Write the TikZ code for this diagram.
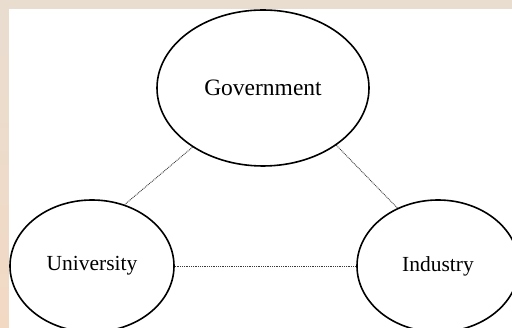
\documentclass[tikz,border=0pt]{standalone}
\usepackage{fontspec}
\setmainfont{Liberation Serif}
\usetikzlibrary{shapes.geometric}
\definecolor{parchtop}{HTML}{E9DDD0}
\definecolor{parchbot}{HTML}{F2D9C4}
\definecolor{linkgray}{HTML}{3A3A3A}
\tikzset{
  sector/.style={draw=black, line width=1.6pt, ellipse, fill=white, inner sep=0pt},
  label/.style={font=\fontsize{21.5}{24}\selectfont, text=black},
  link/.style={draw=linkgray, line width=0.9pt, dash pattern=on 0.9pt off 0.9pt},
}
\begin{document}
\begin{tikzpicture}[x=1pt, y=-1pt]
  \useasboundingbox (0,0) rectangle (512,328);
  % parchment backdrop and white panel
  \shade[top color=parchtop, bottom color=parchbot] (0,0) rectangle (512,328);
  \fill[white] (9,9) rectangle (512,328);
  \begin{scope}
    \clip (9,9) rectangle (512,328);
    \node[sector, minimum width=212pt, minimum height=156pt] (gov) at (263,88) {};
    \node[sector, minimum width=164pt, minimum height=132pt] (uni) at (92,266) {};
    \node[sector, minimum width=162pt, minimum height=132pt] (ind) at (438,266) {};
    \node[label, font=\fontsize{23.5}{26}\selectfont] (govt) at (gov.center) {Government};
    \node[label] (unit) at (uni.center) {University};
    \node[label] (indt) at (ind.center) {Industry};
    \draw[link] (gov.220) -- (uni.62);
    \draw[link] (gov.-38) -- (ind.125);
    \draw[link] (uni.east) -- (ind.west);
  \end{scope}
\end{tikzpicture}
\end{document}
